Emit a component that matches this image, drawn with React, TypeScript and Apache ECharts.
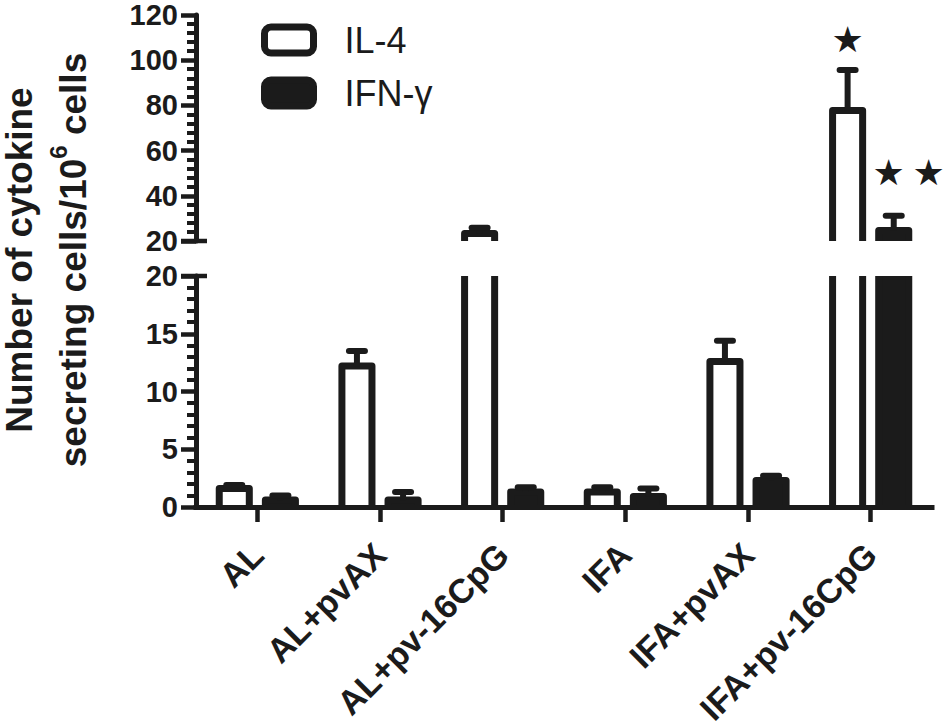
import React, { useEffect, useRef } from "react";
import * as echarts from "echarts";

const categories = ["AL", "AL+pvAX", "AL+pv-16CpG", "IFA", "IFA+pvAX", "IFA+pv-16CpG"];
const il4Values = [1.6, 12.2, 23.3, 1.3, 12.6, 77.7];
const il4Errors = [0.3, 1.3, 2.6, 0.4, 1.8, 18.0];
const ifnValues = [0.6, 0.6, 1.3, 0.9, 2.3, 24.6];
const ifnErrors = [0.4, 0.7, 0.4, 0.7, 0.4, 6.6];
const il4Stars = [0, 0, 0, 0, 0, 1];
const ifnStars = [0, 0, 0, 0, 0, 2];
const lowerAxis = { min: 0, max: 20, interval: 5 };
const upperAxis = { min: 20, max: 120, interval: 20 };

const INK = "#1b1b1b";
const FONT = "Liberation Sans";

function buildRows(vals: number[], errs: number[], stars: number[]) {
  return vals.map((v, i) => [i, v, errs[i], stars[i]]);
}

function makeRender(seg: "lower" | "upper", sign: number, fill: string, starGap: number) {
  const lo = seg === "lower" ? lowerAxis.min : upperAxis.min;
  const hi = seg === "lower" ? lowerAxis.max : upperAxis.max;
  return (params: any, api: any) => {
    const idx = api.value(0);
    const v = api.value(1);
    const e = api.value(2);
    const nStars = api.value(3);
    if (v <= lo) return null;
    const band = api.size([1, 0])[0];
    const bw = band * 0.245;
    const base = api.coord([idx, lo]);
    const cx = base[0] + sign * band * 0.188;
    const yBase = base[1];
    const clipped = v > hi;
    const yTop = api.coord([idx, clipped ? hi : v])[1];
    const l = cx - bw / 2;
    const r = cx + bw / 2;
    const stroke = { stroke: INK, lineWidth: 7, lineJoin: "round", fill: "none" };
    const children: any[] = [
      { type: "rect", shape: { x: l, y: yTop, width: bw, height: yBase - yTop }, style: { fill } },
    ];
    if (clipped) {
      children.push({ type: "line", shape: { x1: l, y1: yBase, x2: l, y2: yTop }, style: stroke });
      children.push({ type: "line", shape: { x1: r, y1: yBase, x2: r, y2: yTop }, style: stroke });
    } else {
      children.push({
        type: "polyline",
        shape: { points: [[l, yBase], [l, yTop], [r, yTop], [r, yBase]] },
        style: stroke,
      });
      const yErr = api.coord([idx, v + e])[1];
      children.push({
        type: "line",
        shape: { x1: cx, y1: yTop, x2: cx, y2: yErr },
        style: { stroke: INK, lineWidth: 6 },
      });
      children.push({
        type: "line",
        shape: { x1: cx - 8, y1: yErr, x2: cx + 8, y2: yErr },
        style: { stroke: INK, lineWidth: 6, lineCap: "round" },
      });
      for (let s = 0; s < nStars; s++) {
        const sx = nStars === 1 ? cx : cx - 5 + 40 * s;
        children.push({
          type: "text",
          style: {
            text: "★",
            x: sx,
            y: yErr - starGap,
            align: "center",
            verticalAlign: "middle",
            fontSize: 36,
            fontFamily: "DejaVu Sans",
            fill: INK,
          },
        });
      }
    }
    return { type: "group", children };
  };
}

function breakRender(params: any, api: any) {
  const y = api.coord([0, api.value(1)])[1];
  const x0 = params.coordSys.x;
  return {
    type: "line",
    shape: { x1: x0 - 15, y1: y, x2: x0 + 11, y2: y },
    style: { stroke: INK, lineWidth: 4.5 },
  };
}

export default function App() {
  const ref = useRef<HTMLDivElement>(null);
  useEffect(() => {
    if (!ref.current) return;
    const chart = echarts.init(ref.current, undefined, { renderer: "svg" });
    const yCommon = (r: { min: number; max: number; interval: number }, minorSplit: number, gridIndex: number) => ({
      type: "value",
      gridIndex,
      min: r.min,
      max: r.max,
      interval: r.interval,
      splitLine: { show: false },
      axisLine: { show: true, lineStyle: { color: INK, width: 5 } },
      axisTick: { show: true, length: 15, lineStyle: { color: INK, width: 4.5 } },
      minorTick: { show: true, splitNumber: minorSplit, length: 9, lineStyle: { color: INK, width: 4 } },
      axisLabel: { fontSize: 29, lineHeight: 24, fontWeight: "bold", fontFamily: FONT, color: INK, margin: 18 },
    });
    const option: any = {
      animation: false,
      backgroundColor: "#ffffff",
      grid: [
        { left: 196, top: 15, width: 736, height: 226, containLabel: false, outerBoundsMode: "none" },
        { left: 196, top: 276, width: 736, height: 231, containLabel: false, outerBoundsMode: "none" },
      ],
      xAxis: [
        { type: "category", gridIndex: 0, data: categories, show: false },
        {
          type: "category",
          gridIndex: 1,
          data: categories,
          axisLine: { show: true, lineStyle: { color: INK, width: 5, cap: "square" } },
          axisTick: { show: true, alignWithLabel: true, length: 15, lineStyle: { color: INK, width: 4.5 } },
          axisLabel: {
            interval: 0,
            rotate: 45,
            margin: 42,
            fontSize: 34,
            fontWeight: "bold",
            fontFamily: FONT,
            color: INK,
          },
        },
      ],
      yAxis: [yCommon(upperAxis, 5, 0), yCommon(lowerAxis, 5, 1)],
      legend: {
        orient: "vertical",
        left: 256,
        top: 17,
        itemWidth: 49,
        itemHeight: 26,
        itemGap: 17,
        icon: "roundRect",
        selectedMode: false,
        textStyle: { fontSize: 36, fontFamily: FONT, color: INK, lineHeight: 36, padding: [0, 0, 0, 26] },
        data: [
          { name: "IL-4", itemStyle: { color: "#ffffff", borderColor: INK, borderWidth: 7 } },
          { name: "IFN-γ", itemStyle: { color: INK, borderColor: INK, borderWidth: 7 } },
        ],
      },
      graphic: [
        {
          type: "text",
          x: 46,
          y: 260,
          rotation: Math.PI / 2,
          style: {
            text: "{a|Number of cytokine}\n{a|secreting cells/10}{s|6}{a| cells}",
            align: "center",
            verticalAlign: "middle",
            fill: INK,
            rich: {
              a: { fontSize: 37, fontWeight: "bold", fontFamily: FONT, lineHeight: 54, fill: INK },
              s: { fontSize: 24, fontWeight: "bold", fontFamily: FONT, lineHeight: 30, verticalAlign: "top", fill: INK },
            },
          },
        },
      ],
      series: [
        {
          type: "custom", name: "IL-4", xAxisIndex: 0, yAxisIndex: 0, z: -1,
          itemStyle: { color: "#ffffff", borderColor: INK },
          renderItem: makeRender("upper", -1, "#ffffff", 30),
          encode: { x: 0, y: 1 },
          data: buildRows(il4Values, il4Errors, il4Stars),
        },
        {
          type: "custom", name: "IFN-γ", xAxisIndex: 0, yAxisIndex: 0, z: -1,
          itemStyle: { color: INK },
          renderItem: makeRender("upper", 1, INK, 43),
          encode: { x: 0, y: 1 },
          data: buildRows(ifnValues, ifnErrors, ifnStars),
        },
        {
          type: "custom", name: "IL-4", xAxisIndex: 1, yAxisIndex: 1, z: -1,
          itemStyle: { color: "#ffffff", borderColor: INK },
          renderItem: makeRender("lower", -1, "#ffffff", 30),
          encode: { x: 0, y: 1 },
          data: buildRows(il4Values, il4Errors, il4Stars),
        },
        {
          type: "custom", name: "IFN-γ", xAxisIndex: 1, yAxisIndex: 1, z: -1,
          itemStyle: { color: INK },
          renderItem: makeRender("lower", 1, INK, 43),
          encode: { x: 0, y: 1 },
          data: buildRows(ifnValues, ifnErrors, ifnStars),
        },
        {
          type: "custom", xAxisIndex: 0, yAxisIndex: 0, z: 3, silent: true,
          renderItem: breakRender, data: [[0, upperAxis.min]],
        },
        {
          type: "custom", xAxisIndex: 1, yAxisIndex: 1, z: 3, silent: true,
          renderItem: breakRender, data: [[0, lowerAxis.max]],
        },
      ],
    };
    chart.setOption(option);
    return () => chart.dispose();
  }, []);
  return (
    <div
      ref={ref}
      style={{ position: "fixed", left: 0, top: 0, width: 945, height: 728, background: "#fff" }}
    />
  );
}
